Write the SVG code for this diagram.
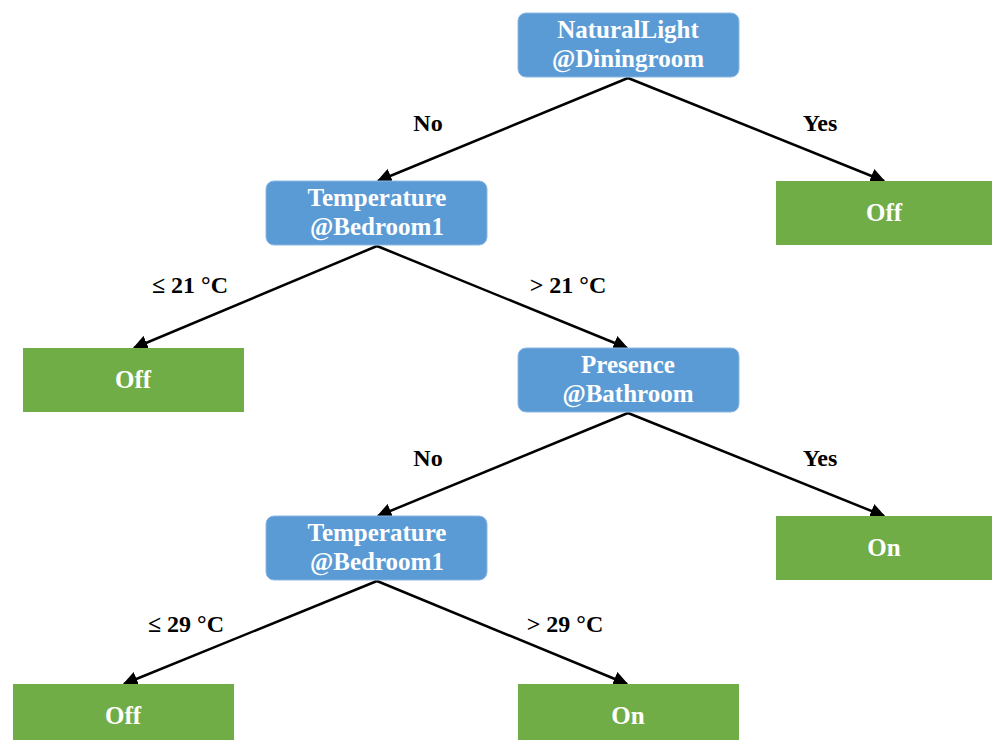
<svg xmlns="http://www.w3.org/2000/svg" width="992" height="740" viewBox="0 0 992 740">
<style>
.dec{fill:#5B9BD5;stroke:#8DB8E2;stroke-width:1}
.leaf{fill:#70AD47}
.t{font-family:"Liberation Serif","DejaVu Serif",serif;font-weight:bold;font-size:25px;fill:#fff;text-anchor:middle}
.lbl{font-family:"Liberation Serif","DejaVu Serif",serif;font-weight:bold;font-size:24px;fill:#000;text-anchor:middle}
.c{stroke:#000;stroke-width:2.5;fill:none;marker-end:url(#ah)}
</style>
<defs>
<marker id="ah" viewBox="0 0 10 10" refX="9" refY="5" markerWidth="6" markerHeight="6" orient="auto" markerUnits="strokeWidth">
<path d="M0,0 L10,5 L0,10 z" fill="#000"/>
</marker>
</defs>
<g id="connectors">
<line class="c" x1="628" y1="78" x2="378" y2="181"/>
<line class="c" x1="628" y1="78" x2="884" y2="181"/>
<line class="c" x1="377" y1="246" x2="134" y2="348"/>
<line class="c" x1="377" y1="246" x2="627" y2="348"/>
<line class="c" x1="628" y1="413" x2="378" y2="516"/>
<line class="c" x1="628" y1="413" x2="884" y2="516"/>
<line class="c" x1="377" y1="581" x2="124" y2="684"/>
<line class="c" x1="377" y1="581" x2="627" y2="684"/>
</g>
<g id="labels">
<text class="lbl" x="428" y="131">No</text>
<text class="lbl" x="820" y="131">Yes</text>
<text class="lbl" x="190" y="293">≤ 21 °C</text>
<text class="lbl" x="568" y="293">&gt; 21 °C</text>
<text class="lbl" x="428" y="466">No</text>
<text class="lbl" x="820" y="466">Yes</text>
<text class="lbl" x="186" y="632">≤ 29 °C</text>
<text class="lbl" x="565" y="632">&gt; 29 °C</text>
</g>
<g id="n_natural">
<rect class="dec" x="518" y="13" width="221" height="64" rx="8"/>
<text class="t" x="628" y="38">NaturalLight</text>
<text class="t" x="628" y="67">@Diningroom</text>
</g>
<g id="n_off1">
<rect class="leaf" x="776" y="181" width="216" height="64"/>
<text class="t" x="884" y="221">Off</text>
</g>
<g id="n_temp1">
<rect class="dec" x="266" y="181" width="221" height="64" rx="8"/>
<text class="t" x="377" y="206">Temperature</text>
<text class="t" x="377" y="235">@Bedroom1</text>
</g>
<g id="n_off2">
<rect class="leaf" x="23" y="348" width="221" height="64"/>
<text class="t" x="133" y="388">Off</text>
</g>
<g id="n_presence">
<rect class="dec" x="518" y="348" width="221" height="64" rx="8"/>
<text class="t" x="628" y="373">Presence</text>
<text class="t" x="628" y="402">@Bathroom</text>
</g>
<g id="n_on1">
<rect class="leaf" x="776" y="516" width="216" height="64"/>
<text class="t" x="884" y="556">On</text>
</g>
<g id="n_temp2">
<rect class="dec" x="266" y="516" width="221" height="64" rx="8"/>
<text class="t" x="377" y="541">Temperature</text>
<text class="t" x="377" y="570">@Bedroom1</text>
</g>
<g id="n_off3">
<rect class="leaf" x="13" y="684" width="221" height="60"/>
<text class="t" x="123" y="724">Off</text>
</g>
<g id="n_on2">
<rect class="leaf" x="518" y="684" width="221" height="60"/>
<text class="t" x="628" y="724">On</text>
</g>
</svg>
